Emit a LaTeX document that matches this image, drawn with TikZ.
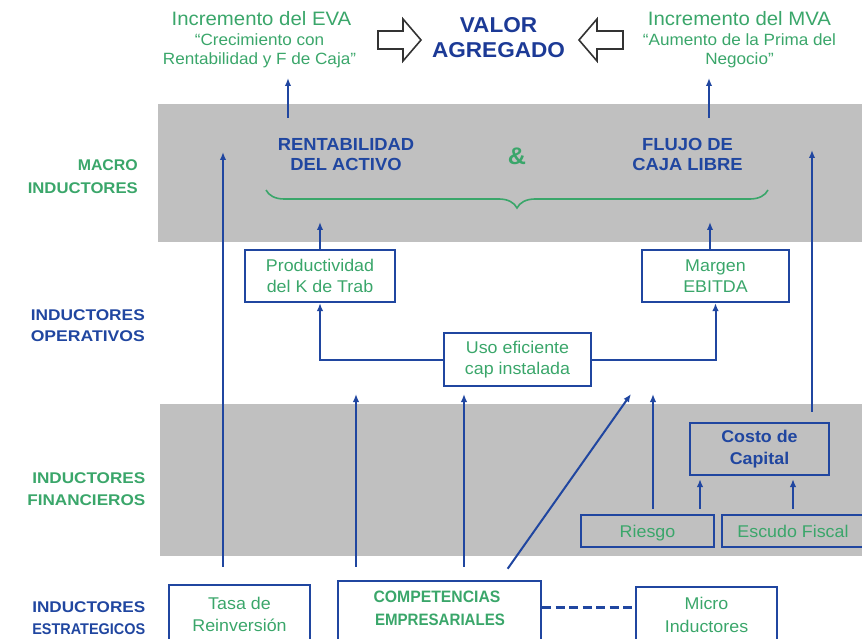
\documentclass[tikz,border=0pt]{standalone}
\usepackage{fontspec}
\setmainfont{Liberation Sans}[FakeStretch=1.05]
\usetikzlibrary{arrows.meta,decorations.pathreplacing,calc}
\definecolor{dblue}{RGB}{32,70,160}
\definecolor{tblue}{RGB}{28,58,150}
\definecolor{dgreen}{RGB}{58,166,106}
\definecolor{band}{RGB}{192,192,192}
% set a word to a given width, keeping its height
\newcommand{\fitw}[2]{\resizebox{#1}{\height}{#2}}

\begin{document}
\begin{tikzpicture}[x=1pt,y=-1pt,
  flow/.style={draw=dblue, line width=2pt, -{Latex[length=8pt,width=6.5pt]}},
  ibox/.style={draw=dblue, line width=2.2pt, align=center, inner sep=0pt},
  gtxt/.style={text=dgreen, font=\fontsize{17}{21.5}\selectfont},
  btxt/.style={text=dblue, font=\bfseries\fontsize{17}{22}\selectfont},
  ctxt/.style={text=dgreen, anchor=base, inner sep=0pt, font=\bfseries\fontsize{16.5}{23}\selectfont},
  htxt/.style={text=dgreen, anchor=base, font=\fontsize{19.4}{20}\selectfont},
  stxt/.style={text=dgreen, anchor=base, font=\fontsize{16.3}{19.5}\selectfont},
  mtxt/.style={text=dblue, anchor=base, font=\bfseries\fontsize{17.5}{21}\selectfont},
  valt/.style={text=tblue, anchor=base, font=\bfseries\fontsize{21.5}{25}\selectfont},
  side/.style={anchor=base east, inner sep=0pt, font=\bfseries\fontsize{15.5}{22}\selectfont},
  hollow/.style={draw=black!80, line width=1.6pt, fill=white, line join=miter},
  dline/.style={draw=dblue, line width=3pt, dash pattern=on 9pt off 4.5pt}]

\useasboundingbox (0,0) rectangle (862,639);
\clip (0,0) rectangle (862,639);

% shaded bands
\fill[band] (158,104) rectangle (862,242);
\fill[band] (160,404) rectangle (862,556);

% headline
\node[valt] (valor1) at (498.5,33) {VALOR};
\node[valt] (valor2) at (498.5,58) {AGREGADO};
\node[htxt] (eva) at (261.5,25.7) {Incremento del EVA};
\node[stxt] (eva1) at (259.5,45.7) {“Crecimiento con};
\node[stxt] (eva2) at (259.5,65) {Rentabilidad y F de Caja”};
\node[htxt] (mva) at (739.5,25.7) {Incremento del MVA};
\node[stxt] (mva1) at (739.5,45.7) {“Aumento de la Prima del};
\node[stxt] (mva2) at (739.5,65) {Negocio”};

% hollow block arrows pointing at the value
\draw[hollow] (378,31) -- (403,31) -- (403,19) -- (421,40) -- (403,61) -- (403,49) -- (378,49) -- cycle;
\draw[hollow] (623,31) -- (597,31) -- (597,19) -- (579,40) -- (597,61) -- (597,49) -- (623,49) -- cycle;

% row labels
\node[side, text=dgreen] (l1a) at (138,171) {\fitw{60pt}{MACRO}};
\node[side, text=dgreen] (l1b) at (138,194) {\fitw{110pt}{INDUCTORES}};
\node[side, text=dblue] (l2a) at (145,320) {\fitw{114pt}{INDUCTORES}};
\node[side, text=dblue] (l2b) at (145,341) {\fitw{114pt}{OPERATIVOS}};
\node[side, text=dgreen] (l3a) at (145.5,483) {\fitw{113pt}{INDUCTORES}};
\node[side, text=dgreen] (l3b) at (145.5,505) {\fitw{118pt}{FINANCIEROS}};
\node[side, text=dblue] (l4a) at (145.5,612) {\fitw{113pt}{INDUCTORES}};
\node[side, text=dblue] (l4b) at (145.5,634) {\fitw{113pt}{ESTRATEGICOS}};

% macro drivers
\node[mtxt] (rent1) at (346,150.5) {RENTABILIDAD};
\node[mtxt] (rent2) at (346,171) {DEL ACTIVO};
\node[mtxt] (flujo1) at (687.5,150.5) {FLUJO DE};
\node[mtxt] (flujo2) at (687.5,171) {CAJA LIBRE};
\node[text=dgreen, anchor=base, font=\bfseries\fontsize{24}{24}\selectfont] (amp) at (517,165) {\&};
\draw[dgreen, line width=1.6pt, decorate, decoration={brace, amplitude=18pt}] (768,190) -- (266,190);

% operating drivers
\node[ibox, gtxt, minimum width=150pt, minimum height=52pt] (prod) at (320,276) {Productividad\\del K de Trab};
\node[ibox, gtxt, minimum width=147pt, minimum height=52pt] (marg) at (715.5,276) {Margen\\EBITDA};
\node[ibox, gtxt, minimum width=147pt, minimum height=53pt] (uso) at (517.5,359.5) {Uso eficiente\\cap instalada};

% financial drivers
\node[ibox, btxt, minimum width=139pt, minimum height=52pt] (costo) at (759.5,449) {Costo de\\Capital};
\node[ibox, gtxt, text depth=0pt, minimum width=133pt, minimum height=32pt] (ries) at (647.5,531) {Riesgo};
\node[ibox, gtxt, text depth=0pt, minimum width=142pt, minimum height=32pt] (escu) at (793,531) {Escudo Fiscal};

% strategic drivers
\node[ibox, minimum width=141pt, minimum height=80pt] (tasa) at (239.5,625) {};
\node[gtxt, anchor=base] (tasa1) at (239.5,609) {Tasa de};
\node[gtxt, anchor=base] (tasa2) at (239.5,631) {Reinversión};
\node[ibox, minimum width=203pt, minimum height=80pt] (comp) at (439.5,621) {};
\node[ctxt] (comp1) at (437,602) {\fitw{127pt}{COMPETENCIAS}};
\node[ctxt] (comp2) at (440,625) {\fitw{130pt}{EMPRESARIALES}};
\node[ibox, minimum width=141pt, minimum height=80pt] (micro) at (706.5,627) {};
\node[gtxt, anchor=base] (micro1) at (706.5,609) {Micro};
\node[gtxt, anchor=base] (micro2) at (706.5,632) {Inductores};

% connector end points
\coordinate (evaFoot) at (288,118);
\coordinate (evaTip) at (288,78);
\coordinate (mvaFoot) at (709,118);
\coordinate (mvaTip) at (709,78);
\coordinate (prodTip) at (320,222);
\coordinate (margTip) at (710,222);
\coordinate (tasaTip) at (223,152);
\coordinate (costoTip) at (812,150);
\coordinate (c1Tip) at (356,394);
\coordinate (c2Tip) at (464,394);
\coordinate (dgFoot) at (499,581);
\coordinate (dgTip) at (631,394);
\coordinate (rTip) at (653,394);
\coordinate (rx) at (700,0);
\coordinate (ex) at (793,0);
\coordinate (dy) at (0,607);

% connectors
\draw[flow] (evaFoot) -- (evaTip);
\draw[flow] (mvaFoot) -- (mvaTip);
\draw[flow] (prod.north) -- (prodTip);
\draw[flow] (marg.north -| margTip) -- (margTip);
\draw[flow] (uso.west) -| (prod.south);
\draw[flow] (uso.east) -| (marg.south);
\draw[flow, shorten <=17pt] (tasa.north -| tasaTip) -- (tasaTip);
\draw[flow, shorten <=10pt] (costo.north -| costoTip) -- (costoTip);
\draw[flow, shorten <=13pt] (comp.north -| c1Tip) -- (c1Tip);
\draw[flow, shorten <=13pt] (comp.north -| c2Tip) -- (c2Tip);
\draw[flow, shorten <=15pt] (dgFoot) -- (dgTip);
\draw[flow, shorten <=5pt] (ries.north -| rTip) -- (rTip);
\draw[flow, shorten <=5pt, shorten >=3pt] (ries.north -| rx) -- (costo.south -| rx);
\draw[flow, shorten <=5pt, shorten >=3pt] (escu.north -| ex) -- (costo.south -| ex);
\draw[dline] (comp.east |- dy) -- (micro.west |- dy);
\end{tikzpicture}
\end{document}
